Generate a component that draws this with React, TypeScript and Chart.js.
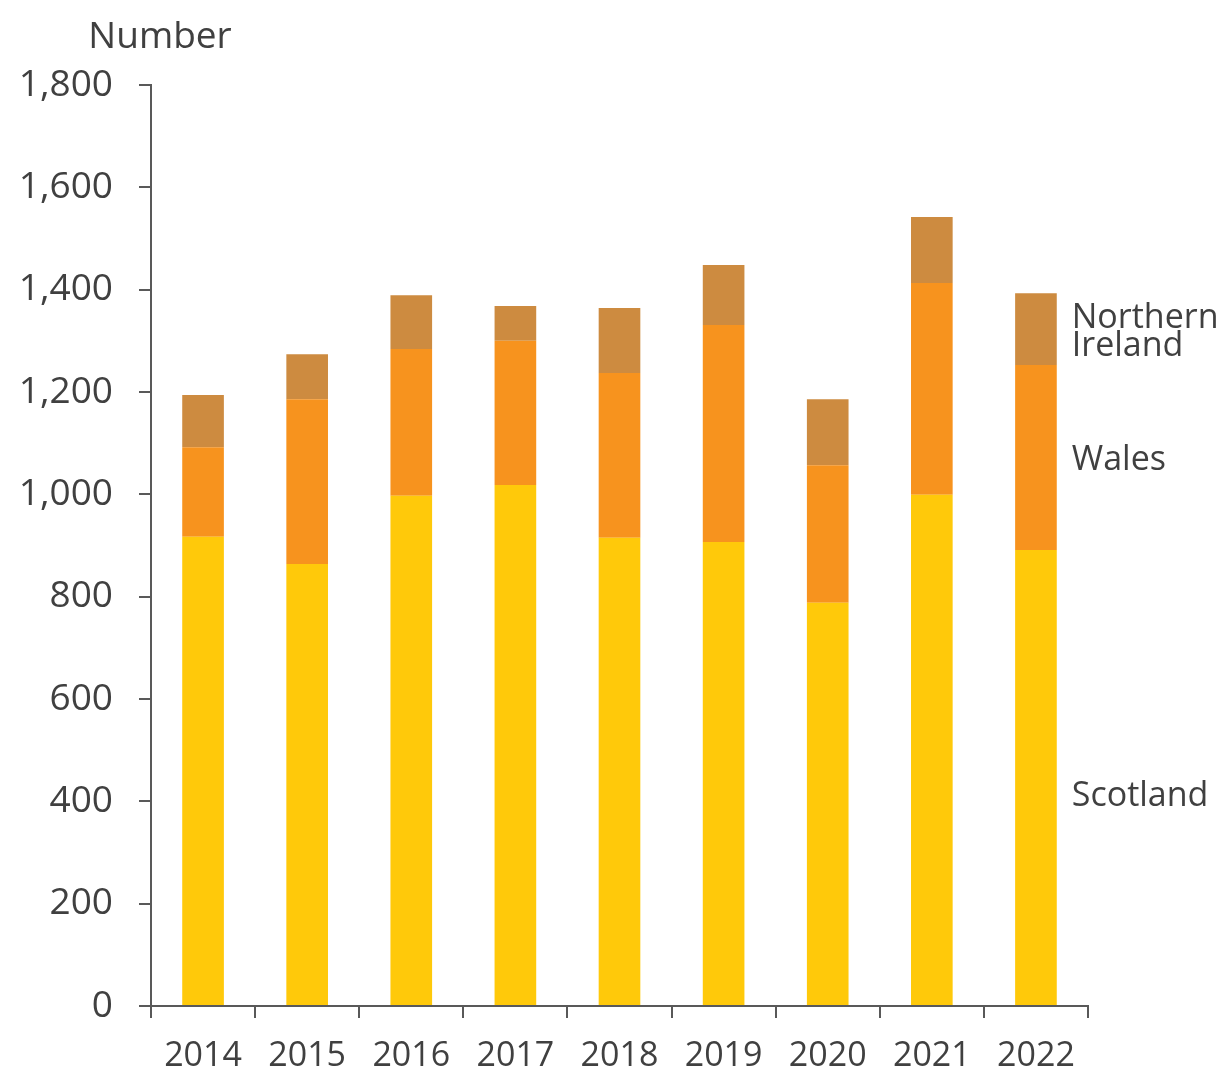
import React, { useEffect, useRef } from "react";
import { Chart, registerables } from "chart.js";

Chart.register(...registerables);

const years = ["2014", "2015", "2016", "2017", "2018", "2019", "2020", "2021", "2022"];
const scotland = [917, 864, 997, 1018, 915, 907, 788, 999, 891];
const wales = [175, 322, 287, 282, 322, 424, 269, 414, 362];
const northernIreland = [102, 88, 105, 68, 127, 117, 129, 129, 140];
const seriesLabels = ["Scotland", "Wales", "Northern Ireland"];
const yTicks = [0, 200, 400, 600, 800, 1000, 1200, 1400, 1600, 1800];

const TEXT = "#404040";
const AXIS = "#595959";
const FONT = "'Open Sans', 'Noto Sans', sans-serif";

const labelPlugin = {
  id: "seriesLabels",
  afterDraw(chart: any) {
    const { ctx, scales } = chart;
    const y = scales.y;
    const last = years.length - 1;
    const meta = chart.getDatasetMeta(2);
    const bar = meta.data[last];
    const x = bar.x + bar.width / 2 + 15;
    ctx.save();
    ctx.fillStyle = TEXT;
    ctx.font = `34px ${FONT}`;
    ctx.textAlign = "left";
    ctx.textBaseline = "middle";
    const s = scotland[last];
    const w = wales[last];
    const n = northernIreland[last];
    ctx.fillText("Scotland", x, y.getPixelForValue(s / 2) + 18);
    ctx.fillText("Wales", x, y.getPixelForValue(s + w / 2) + 3);
    const nm = y.getPixelForValue(s + w + n / 2) + 3;
    ctx.fillText("Northern", x, nm - 14);
    ctx.fillText("Ireland", x, nm + 14);
    // axis title
    ctx.textAlign = "center";
    ctx.font = `37px ${FONT}`;
    ctx.fillText("Number", 160, 37);
    ctx.restore();
  },
};

export default function App() {
  const ref = useRef<HTMLCanvasElement | null>(null);
  useEffect(() => {
    if (!ref.current) return;
    const chart = new Chart(ref.current, {
      type: "bar",
      data: {
        labels: years,
        datasets: [
          { label: seriesLabels[0], data: scotland, backgroundColor: "#FFC90A" },
          { label: seriesLabels[1], data: wales, backgroundColor: "#F7931E" },
          { label: seriesLabels[2], data: northernIreland, backgroundColor: "#CD8B40" },
        ],
      },
      options: {
        animation: false,
        responsive: false,
        maintainAspectRatio: false,
        layout: { padding: { left: 0, right: 133, top: 85, bottom: 0 } },
        datasets: { bar: { categoryPercentage: 1, barPercentage: 0.4, borderWidth: 0 } },
        plugins: { legend: { display: false }, tooltip: { enabled: false } },
        scales: {
          x: {
            stacked: true,
            afterFit(scale: any) {
              scale.height = 66;
            },
            grid: {
              drawOnChartArea: false,
              drawTicks: true,
              tickLength: 12,
              color: AXIS,
              lineWidth: 2,
              offset: true,
            },
            border: { color: AXIS, width: 2 },
            ticks: {
              color: TEXT,
              font: { family: FONT, size: 34 },
              padding: 18,
              maxRotation: 0,
            },
          },
          y: {
            stacked: true,
            min: 0,
            max: 1800,
            afterFit(scale: any) {
              scale.width = 151;
            },
            afterBuildTicks(scale: any) {
              scale.ticks = yTicks.map((v) => ({ value: v }));
            },
            grid: {
              drawOnChartArea: false,
              drawTicks: true,
              tickLength: 12,
              color: AXIS,
              lineWidth: 2,
            },
            border: { color: AXIS, width: 2 },
            ticks: {
              color: TEXT,
              font: { family: FONT, size: 37 },
              padding: 26,
              callback: (v: any) => Number(v).toLocaleString("en-US"),
            },
          },
        },
      },
      plugins: [labelPlugin],
    });
    return () => chart.destroy();
  }, []);
  return (
    <div style={{ position: "fixed", left: 0, top: 0, width: 1221, height: 1072, background: "#fff" }}>
      <canvas ref={ref} width={1221} height={1072} style={{ width: 1221, height: 1072 }} />
    </div>
  );
}
